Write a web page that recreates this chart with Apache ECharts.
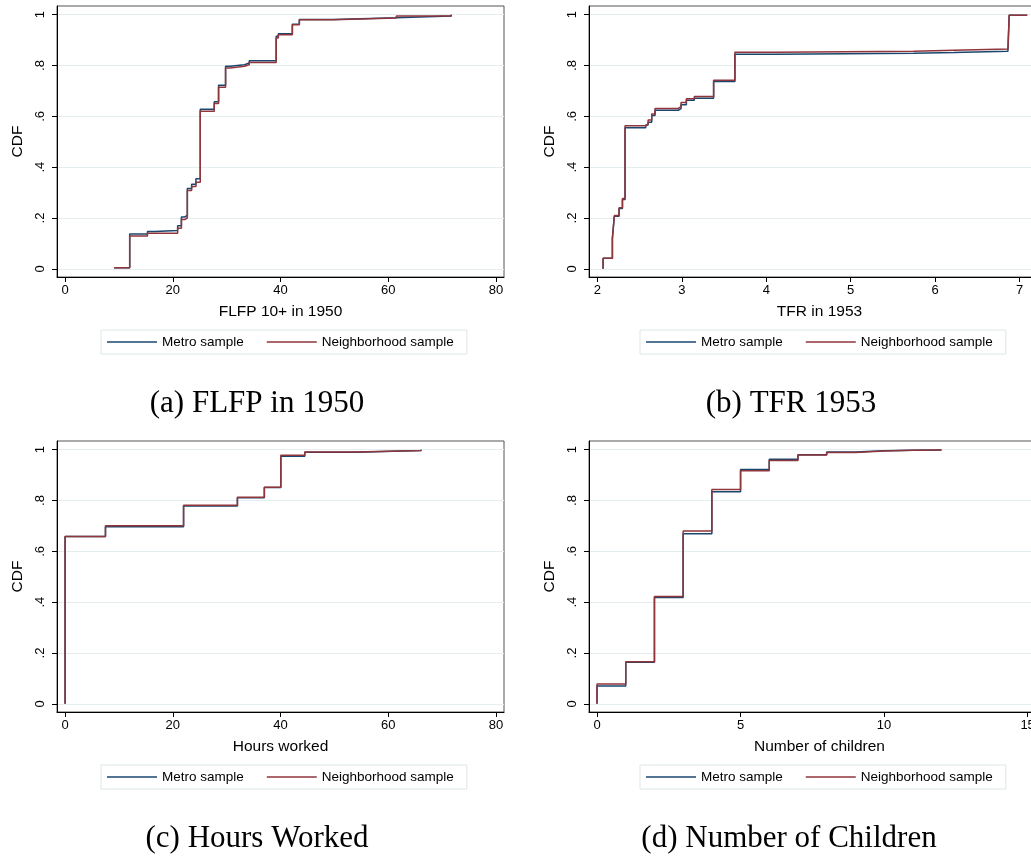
<!DOCTYPE html>
<html>
<head>
<meta charset="utf-8">
<script src="https://cdn.jsdelivr.net/npm/echarts@6/dist/echarts.min.js"></script>
<style>
    html, body { margin: 0; padding: 0; background: #fff; overflow: hidden; }
    #main { width: 1060px; height: 857px; }
</style>
</head>
<body>
<div id="main"></div>
<script>
// CDF step values
var flfpX = [9.1, 12.0, 15.3, 16.7, 20.9, 21.6, 22.2, 22.7, 23.5, 24.3, 25.1, 27.7, 28.5, 29.8, 30.6, 33.3, 34.2, 39.2, 39.6, 42.2, 43.5, 49.8, 61.5, 71.7];
var flfpMetro = [0.004, 0.137, 0.147, 0.151, 0.170, 0.204, 0.210, 0.316, 0.333, 0.354, 0.628, 0.657, 0.722, 0.797, 0.803, 0.810, 0.819, 0.915, 0.925, 0.962, 0.981, 0.988, 0.995, 1.0];
var flfpHood = [0.004, 0.129, 0.140, 0.140, 0.160, 0.194, 0.200, 0.308, 0.324, 0.341, 0.620, 0.650, 0.714, 0.790, 0.797, 0.803, 0.812, 0.908, 0.921, 0.960, 0.980, 0.987, 0.995, 1.0];

var tfrX = [2.067, 2.067, 2.177, 2.20, 2.256, 2.296, 2.327, 2.572, 2.60, 2.643, 2.682, 2.958, 2.99, 3.053, 3.147, 3.376, 3.628, 4.10, 5.746, 6.223, 6.862, 6.877, 7.09];
var tfrMetro = [0, 0.042, 0.118, 0.207, 0.237, 0.273, 0.555, 0.566, 0.577, 0.603, 0.624, 0.630, 0.646, 0.663, 0.671, 0.737, 0.844, 0.848, 0.851, 0.856, 0.866, 0.998, 1.0];
var tfrHood = [0, 0.042, 0.121, 0.210, 0.240, 0.277, 0.563, 0.570, 0.586, 0.609, 0.631, 0.638, 0.654, 0.669, 0.678, 0.742, 0.852, 0.856, 0.860, 0.865, 0.871, 0.998, 1.0];

var hoursX = [0, 0, 7.5, 22.0, 32.0, 37.0, 40.06, 44.5, 54.1, 66.1];
var hoursMetro = [0, 0.658, 0.697, 0.778, 0.811, 0.851, 0.974, 0.990, 0.997, 1.0];
var hoursHood = [0, 0.658, 0.701, 0.781, 0.813, 0.852, 0.978, 0.991, 0.997, 1.0];

var kidsX = [0, 0, 1, 2, 3, 4, 5, 6, 7, 8, 9, 10, 11, 12];
var kidsMetro = [0, 0.070, 0.164, 0.418, 0.669, 0.834, 0.922, 0.962, 0.980, 0.991, 0.996, 0.998, 0.999, 1.0];
var kidsHood = [0, 0.078, 0.166, 0.422, 0.680, 0.843, 0.917, 0.957, 0.979, 0.989, 0.995, 0.998, 0.999, 1.0];

var flfpTicks = [0, 20, 40, 60, 80];
var tfrTicks = [2, 3, 4, 5, 6, 7];
var hoursTicks = [0, 20, 40, 60, 80];
var kidsTicks = [0, 5, 10, 15];
var cdfTicks = [0, 0.2, 0.4, 0.6, 0.8, 1];

var seriesNames = ['Metro sample', 'Neighborhood sample'];
var axisNames = ['FLFP 10+ in 1950', 'TFR in 1953', 'Hours worked', 'Number of children'];
var captions = ['(a) FLFP in 1950', '(b) TFR 1953', '(c) Hours Worked', '(d) Number of Children'];

var metroColor = '#1a476f';
var hoodColor = '#90353b';
var sans = 'Liberation Sans, Arial, sans-serif';

function pairs(xs, ys) {
    return xs.map(function (x, i) {
        return [x, ys[i]];
    });
}

function cdfLabel(v) {
    var s = v.toFixed(1);
    if (s == '0.0') return '0';
    if (s == '1.0') return '1';
    return s.replace(/^0\./, '.');
}

createCharts();

function createCharts() {
    var panels = [
        {left: 57, top: 6, width: 447, min: -1.5, max: 81.5, ticks: flfpTicks, x: flfpX, a: flfpMetro, b: flfpHood, capX: 257, capY: 404, legLeft: 101, legTop: 330},
        {left: 589, top: 6, width: 461, min: 1.9, max: 7.36, ticks: tfrTicks, x: tfrX, a: tfrMetro, b: tfrHood, capX: 791, capY: 404, legLeft: 640, legTop: 330},
        {left: 57, top: 441, width: 447, min: -1.5, max: 81.5, ticks: hoursTicks, x: hoursX, a: hoursMetro, b: hoursHood, capX: 257, capY: 839, legLeft: 101, legTop: 765},
        {left: 589, top: 441, width: 461, min: -0.28, max: 15.78, ticks: kidsTicks, x: kidsX, a: kidsMetro, b: kidsHood, capX: 789, capY: 839, legLeft: 640, legTop: 765}
    ];

    var grid = [], xAxis = [], yAxis = [], series = [], legend = [], graphic = [];
    for (var i = 0; i < panels.length; i++) {
        var p = panels[i];
        grid.push({
            left: p.left, top: p.top, width: p.width, height: 271,
            show: true, borderColor: '#555', borderWidth: 1, backgroundColor: '#fff',
            containLabel: false, outerBoundsMode: 'none'
        });
        xAxis.push({
            type: 'value', gridIndex: i, min: p.min, max: p.max,
            name: axisNames[i], nameLocation: 'middle', nameGap: 27,
            nameTextStyle: {fontFamily: sans, fontSize: 15.5, color: '#000'},
            axisLine: {show: true, onZero: false, lineStyle: {color: '#000', width: 1}},
            axisTick: {show: true, length: 5, customValues: p.ticks, lineStyle: {color: '#000'}},
            axisLabel: {customValues: p.ticks, margin: 7, fontFamily: sans, fontSize: 13, color: '#000'},
            splitLine: {show: false}
        });
        yAxis.push({
            type: 'value', gridIndex: i, min: -0.032, max: 1.034,
            name: 'CDF', nameLocation: 'middle', nameGap: 31, nameRotate: 90,
            nameTextStyle: {fontFamily: sans, fontSize: 15.5, color: '#000'},
            axisLine: {show: true, onZero: false, lineStyle: {color: '#000', width: 1}},
            axisTick: {show: true, length: 5, customValues: cdfTicks, lineStyle: {color: '#000'}},
            axisLabel: {customValues: cdfTicks, rotate: 90, margin: 10, fontFamily: sans, fontSize: 13, color: '#000', formatter: cdfLabel},
            splitLine: {show: true, lineStyle: {color: '#e4edf0', width: 1}}
        });
        series.push({
            name: seriesNames[0], type: 'line', step: 'end', xAxisIndex: i, yAxisIndex: i,
            showSymbol: false, data: pairs(p.x, p.a), color: metroColor,
            lineStyle: {color: metroColor, width: 1.5}, z: 2
        });
        series.push({
            name: seriesNames[1], type: 'line', step: 'end', xAxisIndex: i, yAxisIndex: i,
            showSymbol: false, data: pairs(p.x, p.b), color: hoodColor,
            lineStyle: {color: hoodColor, width: 1.5}, z: 3
        });
        legend.push({
            left: p.legLeft, top: p.legTop, orient: 'horizontal',
            data: seriesNames, icon: 'rect', itemWidth: 50, itemHeight: 1.5, itemGap: 23,
            padding: [5, 13, 5, 6], borderColor: '#dde6e8', borderWidth: 1, backgroundColor: '#fff',
            selectedMode: false,
            textStyle: {fontFamily: sans, fontSize: 13.5, lineHeight: 14, color: '#000'}
        });
        graphic.push({
            type: 'text', x: p.capX, y: p.capY,
            style: {
                text: captions[i], fill: '#000', align: 'center', verticalAlign: 'middle',
                font: '31px "Liberation Serif", "Times New Roman", serif'
            }
        });
    }

    var myChart = echarts.init(document.getElementById('main'), null, {renderer: 'canvas'});
    myChart.setOption({
        animation: false,
        backgroundColor: '#fff',
        grid: grid,
        xAxis: xAxis,
        yAxis: yAxis,
        legend: legend,
        graphic: graphic,
        series: series
    });
}
</script>
</body>
</html>
